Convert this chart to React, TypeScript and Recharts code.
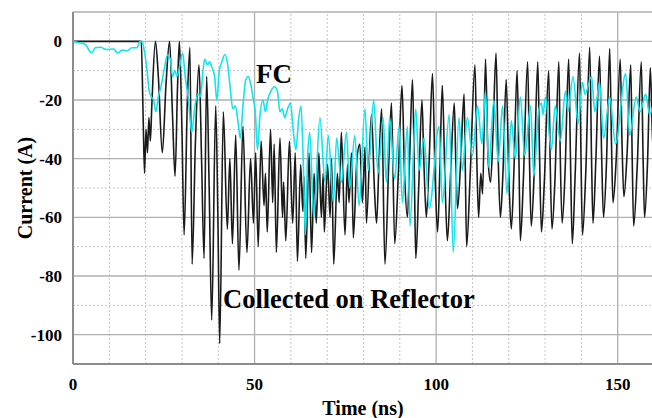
import { LineChart, Line, XAxis, YAxis, ReferenceLine } from "recharts";

// Collected on Reflector (black trace), time in ns / current in A
const refTime = [
  0, 18.8, 19.3, 19.7, 20.1, 20.5, 20.9, 21.3, 21.7, 22.7, 23.5, 24.6, 25.6, 26.6, 27.4, 28.1, 28.8, 29.3,
  30.0, 30.6, 31.5, 32.2, 32.8, 33.7, 34.7, 35.4, 36.1, 36.8, 37.5, 38.2, 39.3, 39.9, 40.4, 41.4,
  42.5, 43.2, 43.9, 44.8, 45.7, 46.8, 47.9, 48.9, 49.7, 50.3, 51.0, 51.8, 52.6, 53.0, 53.5, 54.4,
  55.0, 55.4, 56.0, 57.0, 57.7, 58.0, 58.6, 59.6, 60.5, 61.2, 61.8, 62.7, 63.3, 63.6, 64.1, 65.0,
  65.7, 66.4, 67.0, 67.7, 68.4, 68.9, 69.2, 70.1, 70.8, 71.2, 71.8, 72.8, 73.3, 73.9, 74.9, 75.6,
  76.0, 76.7, 77.2, 78.2, 79.0, 79.7, 80.4, 80.8, 82.2, 83.0, 83.6, 84.3, 85.0, 85.9, 87.0, 87.7,
  88.6, 89.6, 90.6, 91.3, 92.1, 92.7, 93.5, 94.0, 94.4, 95.2, 96.1, 96.6, 97.3, 98.1, 99.0, 99.7,
  100.4, 101.0, 101.7, 102.4, 103.1, 104.0, 105.0, 105.4, 105.9, 106.8, 107.7, 108.0, 108.4, 109.4,
  110.7, 111.2, 111.7, 112.3, 112.8, 113.6, 114.3, 115.0, 115.7, 116.5, 117.1, 117.7, 118.4, 119.3,
  120.0, 120.7, 121.4, 122.3, 122.8, 123.2, 124.0, 125.2, 125.7, 126.2, 127.0, 128.0, 128.5, 129.0,
  129.8, 131.0, 131.4, 131.9, 132.7, 133.8, 134.2, 134.7, 135.5, 136.5, 137.0, 137.5, 138.3, 139.5,
  139.9, 140.3, 141.2, 142.3, 142.8, 143.2, 144.0, 145.0, 145.6, 146.1, 146.9, 147.8, 148.3, 148.7,
  149.6, 150.7, 151.2, 151.7, 152.6, 153.6, 154.0, 154.4, 155.4, 156.5, 157.0, 157.4, 158.2, 159.0,
  159.5, 160.0,
];
const refCurrent = [
  0, 0, -25, -45, -30, -38, -26, -34, -22, 0, -12, -38, -15, 0, -25, -46, -15, 0,
  -30, -66, -20, -2, -76, -35, -8, -40, -74, -12, -50, -95, -22, -60, -103, -24,
  -64, -40, -69, -32, -78, -29, -72, -40, -62, -38, -70, -34, -56, -45, -65, -30,
  -55, -35, -72, -33, -60, -48, -68, -34, -62, -38, -75, -42, -58, -46, -74, -38,
  -72, -45, -62, -38, -60, -45, -65, -42, -60, -40, -76, -45, -55, -31, -66, -42,
  -55, -38, -67, -40, -35, -55, -36, -62, -25, -50, -62, -40, -23, -76, -40, -21,
  -69, -45, -15, -45, -60, -40, -13, -45, -74, -50, -20, -40, -60, -40, -11, -45,
  -65, -45, -15, -45, -68, -45, -21, -40, -57, -40, -18, -40, -70, -45,
  -8, -40, -60, -45, -52, -6, -40, -48, -30, -4, -40, -60, -45, -13,
  -45, -64, -45, -10, -40, -68, -48, -7, -40, -63, -45, -7, -40, -65,
  -48, -10, -40, -64, -48, -7, -40, -62, -45, -6, -40, -69, -45, -4,
  -40, -66, -45, -2, -40, -62, -40, -5, -40, -60, -42, -2.5, -35, -55,
  -40, -6, -35, -53, -38, -8, -40, -63, -42, -7, -40, -60, -42, -9,
  -30, -45,
];

// FC (cyan trace)
const fcTime = [
  0, 2.0, 3.4, 4.6, 5.2, 6.1, 7.5, 9.3, 11.2, 12.3, 13.5, 14.9, 16.2, 17.6, 18.5, 19.0, 19.6, 20.4,
  21.0, 21.6, 22.2, 22.8, 23.5, 24.3, 25.2, 26.0, 26.8, 27.4, 28.1, 28.6, 29.3, 30.2, 30.9, 31.8,
  32.7, 33.6, 34.4, 35.1, 35.8, 36.3, 37.0, 37.6, 38.3, 39.0, 39.6, 40.3, 41.0, 41.8, 42.6, 43.3,
  44.0, 44.7, 45.5, 46.1, 46.8, 47.6, 48.3, 49.0, 49.7, 50.2, 50.8, 51.5, 52.3, 53.0, 53.6, 54.5,
  55.5, 56.3, 57.0, 57.6, 58.3, 59.1, 59.9, 60.7, 61.4, 62.1, 62.8, 63.5, 64.0, 64.6, 65.2, 66.3,
  68.0, 69.4, 70.3, 71.7, 72.6, 73.9, 75.3, 76.2, 77.6, 78.8, 80.4, 81.3, 82.8, 84.0, 85.4, 86.3,
  87.2, 88.6, 89.8, 90.7, 92.1, 92.8, 94.4, 95.3, 96.7, 98.1, 100.8, 101.7, 103.6, 104.7, 106.3,
  107.2, 108.6, 110.0, 111.4, 112.6, 113.6, 114.5, 115.9, 117.1, 118.3, 119.5, 120.7, 121.8, 123.2,
  124.4, 126.0, 126.9, 128.2, 129.0, 129.4, 130.1, 131.7, 132.8, 134.2, 135.6, 136.3, 137.7, 139.1,
  140.3, 141.0, 142.8, 143.7, 145.0, 146.1, 147.8, 149.4, 152.2, 153.3, 155.1, 156.2, 157.7, 158.8,
  160.0,
];
const fcCurrent = [
  0, -0.6, -1, -3.4, -3.9, -2.2, -2, -2.8, -2.6, -4, -3, -3.2, -2.2, -2.2, 0, 0, -3, -10,
  -17, -19, -20, -24, -19, -15, -9, -4.7, -6, -12, -10, -12, -9, -4, -12, -20,
  -31, -22, -18, -19, -10, -6, -8, -7, -9, -12, -20, -10, -7, -4.5, -8, -16,
  -23, -22, -28, -33, -22, -13, -12, -15, -20, -24, -37, -25, -20, -24, -20, -17,
  -15.5, -17, -24, -23, -26, -23, -21, -31, -37, -27, -22, -45, -66, -40, -31, -60,
  -26, -48, -32, -55, -33, -48, -31, -50, -32, -56, -23, -44, -20, -45, -26, -48,
  -26, -47, -29, -55, -29, -63, -23, -44, -33, -57, -29, -55, -25, -72, -26,
  -44, -26, -39, -22, -35, -17, -43, -20, -41, -22, -52, -27, -40, -19,
  -39, -22, -46, -24, -21, -25, -19, -37, -22, -34, -17, -24, -12, -28,
  -14, -18, -12, -24, -14, -33, -19, -35, -11, -32, -19, -24, -18, -25,
  -20,
];

const xTicks = [0, 50, 100, 150];
const yTicks = [0, -20, -40, -60, -80, -100];
const xMajorGrid = [50, 100, 150];
const xMinorGrid = [10, 20, 30, 40, 60, 70, 80, 90, 110, 120, 130, 140];
const yMajorGrid = [0, -20, -40, -60, -80, -100, 10];
const yMinorGrid = [-10, -30, -50, -70, -90];

const refData = refTime.map((t, i) => ({ t, v: refCurrent[i] }));
const fcData = fcTime.map((t, i) => ({ t, v: fcCurrent[i] }));

const font = '"Liberation Serif", "Times New Roman", serif';

export default function App() {
  return (
    <div style={{ position: "absolute", left: 0, top: 0, width: 652, height: 418, background: "#fff", fontFamily: font }}>
      <LineChart width={652} height={418} margin={{ top: 12, right: -2, left: 0, bottom: 24 }}>
        <XAxis
          type="number"
          dataKey="t"
          domain={[0, 160]}
          ticks={xTicks}
          allowDataOverflow
          tickLine={false}
          axisLine={{ stroke: "#8c8c8c", strokeWidth: 2 }}
          tick={{ fontSize: 17, fontWeight: 700, fill: "#000", fontFamily: font }}
          tickMargin={8}
          height={30}
        />
        <YAxis
          type="number"
          dataKey="v"
          domain={[-110, 10]}
          ticks={yTicks}
          allowDataOverflow
          tickLine={false}
          axisLine={{ stroke: "#8c8c8c", strokeWidth: 2 }}
          tick={{ fontSize: 17, fontWeight: 700, fill: "#000", fontFamily: font }}
          tickMargin={5}
          width={73}
        />
        {xMinorGrid.map((x) => (
          <ReferenceLine key={"xm" + x} x={x} stroke="#c4c4c4" strokeDasharray="2 2" />
        ))}
        {yMinorGrid.map((y) => (
          <ReferenceLine key={"ym" + y} y={y} stroke="#c4c4c4" strokeDasharray="2 2" />
        ))}
        {xMajorGrid.map((x) => (
          <ReferenceLine key={"xM" + x} x={x} stroke="#b0b0b0" strokeWidth={1.3} />
        ))}
        {yMajorGrid.map((y) => (
          <ReferenceLine key={"yM" + y} y={y} stroke="#b0b0b0" strokeWidth={1.3} />
        ))}
        <Line
          data={refData}
          dataKey="v"
          type="monotone"
          stroke="#1a1a1a"
          strokeWidth={1.6}
          dot={false}
          isAnimationActive={false}
        />
        <Line
          data={fcData}
          dataKey="v"
          type="monotone"
          stroke="#12e4ee"
          strokeWidth={1.6}
          dot={false}
          isAnimationActive={false}
        />
      </LineChart>
      <div style={{ position: "absolute", left: 256, top: 59, fontSize: 27, fontWeight: 700, lineHeight: "30px" }}>FC</div>
      <div style={{ position: "absolute", left: 223, top: 284, fontSize: 26.5, fontWeight: 700, lineHeight: "30px", whiteSpace: "nowrap" }}>
        Collected on Reflector
      </div>
      <div style={{ position: "absolute", left: 0, width: 726, top: 396, textAlign: "center", fontSize: 20, fontWeight: 700, lineHeight: "24px" }}>
        Time (ns)
      </div>
      <div
        style={{
          position: "absolute",
          left: 25,
          top: 188,
          transform: "translate(-50%, -50%) rotate(-90deg)",
          fontSize: 20,
          fontWeight: 700,
          whiteSpace: "nowrap",
          lineHeight: "24px",
        }}
      >
        Current (A)
      </div>
    </div>
  );
}
